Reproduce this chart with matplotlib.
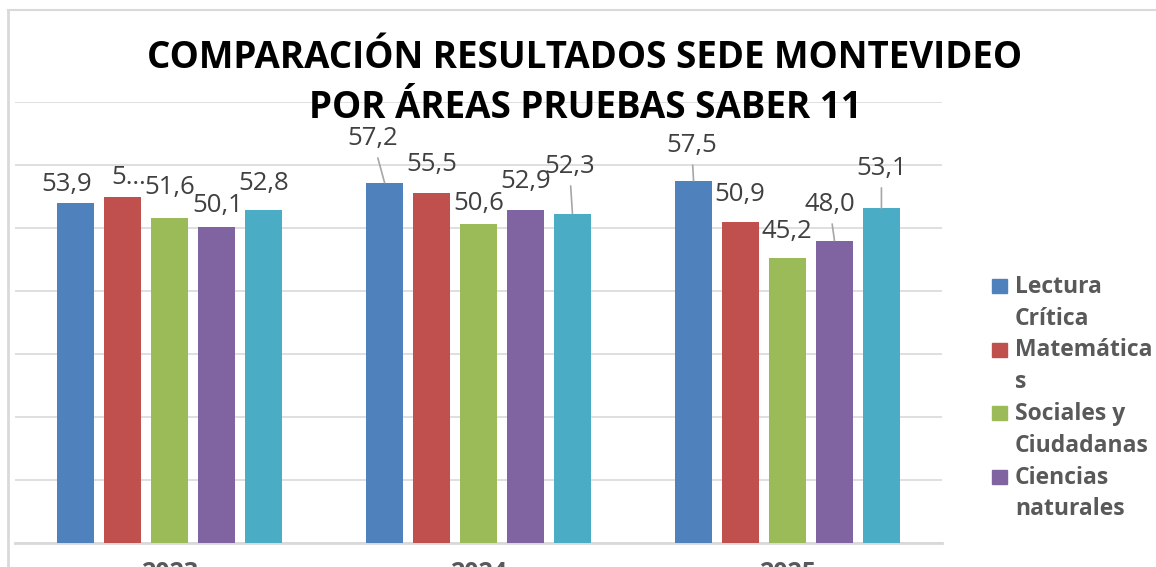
import numpy as np
import matplotlib.pyplot as plt
from matplotlib.patches import Rectangle
from matplotlib.lines import Line2D

# datos
years = ["2023", "2024", "2025"]
areas = ["Lectura Crítica", "Matemáticas", "Sociales y Ciudadanas",
         "Ciencias naturales", "Inglés"]
lectura = [53.9, 57.2, 57.5]
matematicas = [55.0, 55.5, 50.9]
sociales = [51.6, 50.6, 45.2]
ciencias = [50.1, 52.9, 48.0]
ingles = [52.8, 52.3, 53.1]
series = [lectura, matematicas, sociales, ciencias, ingles]
# etiquetas tal como aparecen (la de matemáticas 2023 sale recortada)
labels = [["53,9", "57,2", "57,5"],
          ["5…", "55,5", "50,9"],
          ["51,6", "50,6", "45,2"],
          ["50,1", "52,9", "48,0"],
          ["52,8", "52,3", "53,1"]]
legend_lines = [["Lectura", "Crítica"], ["Matemática", "s"],
                ["Sociales y", "Ciudadanas"], ["Ciencias", "naturales"]]

colors = ["#4F81BD", "#C0504D", "#9BBB59", "#8064A2", "#4BACC6"]

# desplazamiento de las etiquetas (px) y si llevan linea guia
offs = [[(-9, 19), (-12, 44), (-2, 35)],
        [(6, 19), (0, 29), (-1, 28)],
        [(0, 30), (0, 21), (-1, 27)],
        [(1, 22), (0, 28), (-5, 36)],
        [(0, 27), (-3, 47), (0, 40)]]
leader = [[False, True, True],
          [False, False, False],
          [False, False, False],
          [False, False, True],
          [False, True, True]]

W, H = 1156, 567
plt.rcParams["font.family"] = ["Open Sans", "DejaVu Sans"]
fig = plt.figure(figsize=(W / 100, H / 100), dpi=100)


def px(x, y):
    return (x / W, 1 - y / H)


ax = fig.add_axes([15 / W, (H - 543) / H, 927 / W, 441 / H])
x = np.arange(len(years))
step = 0.152
width = 0.12
for i, vals in enumerate(series):
    pos = x + (i - 2) * step
    ax.bar(pos, vals, width, color=colors[i], zorder=3)
    for j, v in enumerate(vals):
        dx, dy = offs[i][j]
        kw = {}
        if leader[i][j]:
            kw["arrowprops"] = dict(arrowstyle="-", color="#a6a6a6", lw=1.2,
                                    shrinkA=3, shrinkB=0)
        ax.annotate(labels[i][j], xy=(pos[j], v),
                    xytext=(dx * 0.72, dy * 0.72), textcoords="offset points",
                    ha="center", va="center", fontsize=18.5, color="#404040",
                    zorder=5, annotation_clip=False, **kw)

ax.set_xlim(-0.5, 2.5)
ax.set_ylim(0, 70)
ax.set_yticks(np.arange(0, 71, 10))
ax.yaxis.grid(True, color="#d9d9d9", lw=1.2, zorder=0)
ax.tick_params(axis="y", left=False, labelleft=False)
ax.set_xticks(x)
ax.set_xticklabels(years, fontsize=18, fontweight="bold", color="#595959")
ax.tick_params(axis="x", length=0, pad=13)
for s in ["top", "right", "left"]:
    ax.spines[s].set_visible(False)
ax.spines["bottom"].set_color("#d9d9d9")
ax.spines["bottom"].set_linewidth(2)

# borde del area del grafico
fig.add_artist(Line2D([8 / W, 8 / W], [0, 1 - 10 / H], color="#d9d9d9", lw=2))
fig.add_artist(Line2D([8 / W, 1], [1 - 10 / H, 1 - 10 / H], color="#d9d9d9", lw=1.5))

# titulo
fig.text(*px(585, 58), "COMPARACIÓN RESULTADOS SEDE MONTEVIDEO", ha="center",
         va="center", fontsize=26.5, fontweight="bold", color="black")
fig.text(*px(585, 108), "POR ÁREAS PRUEBAS SABER 11", ha="center",
         va="center", fontsize=26.5, fontweight="bold", color="black", zorder=6)

# leyenda
for k, lines in enumerate(legend_lines):
    base = 293 + k * 63.5
    fig.add_artist(Rectangle(px(992, base), 15 / W, 14 / H,
                             color=colors[k], transform=fig.transFigure))
    for n, t in enumerate(lines):
        fig.text(*px(1015, base + n * 31.7), t, ha="left", va="baseline",
                 fontsize=16.5, fontweight="bold", color="#595959")

fig.savefig("out.png", dpi=100)
